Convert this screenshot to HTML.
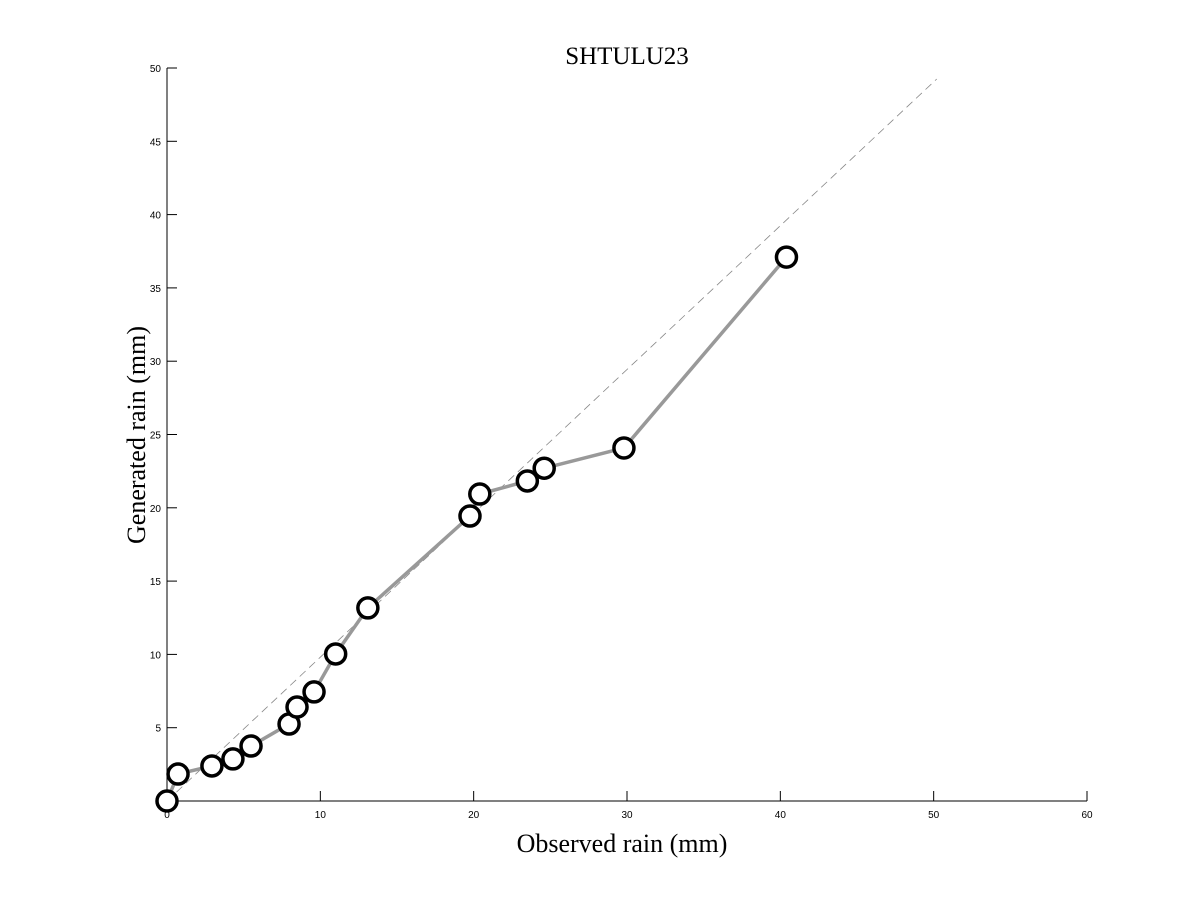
<!DOCTYPE html>
<html><head><meta charset="utf-8"><style>body{margin:0;background:#fff}svg{display:block}</style></head>
<body>
<svg id="chart" width="1200" height="900" xmlns="http://www.w3.org/2000/svg">
<rect width="1200" height="900" fill="#fff"/>
<text x="627" y="64" font-family="Liberation Serif, serif" font-size="25" text-anchor="middle">SHTULU23</text>
<text x="622" y="852" font-family="Liberation Serif, serif" font-size="26" text-anchor="middle">Observed rain (mm)</text>
<text transform="translate(145,435) rotate(-90)" font-family="Liberation Serif, serif" font-size="26" text-anchor="middle">Generated rain (mm)</text>
<g id="axes"></g><g id="marks"></g>
</svg>
<script>
const xTicks=[0,10,20,30,40,50,60];
const yTicks=[5,10,15,20,25,30,35,40,45,50];
const obs=[0,0.72,2.93,4.3,5.48,7.96,8.48,9.59,11.0,13.1,19.76,20.4,23.5,24.6,29.8,40.4];
const gen=[0,1.84,2.39,2.87,3.75,5.25,6.41,7.44,10.03,13.17,19.44,20.94,21.83,22.7,24.08,37.1];
const refLine=[[0,0],[50.2,49.25]];
const X=v=>167+v*920/60, Y=v=>801-v*733/50;
const NS="http://www.w3.org/2000/svg";
function mk(t,a,p){const e=document.createElementNS(NS,t);for(const k in a)e.setAttribute(k,a[k]);p.appendChild(e);return e;}
const ax=document.getElementById('axes'), mg=document.getElementById('marks');
let e=mk('line',{x1:167,y1:801,x2:1087,y2:801,stroke:'#000','stroke-width':1},ax);


e=mk('line',{x1:167,y1:801,x2:167,y2:68,stroke:'#000','stroke-width':1},ax);


xTicks.forEach(v=>{
 let t=mk('line',{x1:X(v),y1:801,x2:X(v),y2:791,stroke:'#000'},ax);
 
 
 let l=mk('text',{x:X(v),y:818,'font-family':'Liberation Sans, sans-serif','font-size':10,'text-anchor':'middle'},ax);
 l.textContent=v;
 
 
});
yTicks.forEach(v=>{
 let t=mk('line',{x1:167,y1:Y(v),x2:177,y2:Y(v),stroke:'#000'},ax);
 
 
 let l=mk('text',{x:161,y:Y(v)+4,'font-family':'Liberation Sans, sans-serif','font-size':10,'text-anchor':'end'},ax);
 l.textContent=v;
 
 
});
e=mk('line',{x1:X(refLine[0][0]),y1:Y(refLine[0][1]),x2:X(refLine[1][0]),y2:Y(refLine[1][1]),stroke:'#888','stroke-width':0.8,'stroke-dasharray':'8,5'},mg);


e=mk('polyline',{points:obs.map((v,i)=>X(v)+','+Y(gen[i])).join(' '),fill:'none',stroke:'#999','stroke-width':3.5},mg);


obs.forEach((v,i)=>{
 let c=mk('circle',{cx:X(v),cy:Y(gen[i]),r:10,fill:'#fff',stroke:'#000','stroke-width':3.5},mg);
 
 
});
</script>
</body></html>
